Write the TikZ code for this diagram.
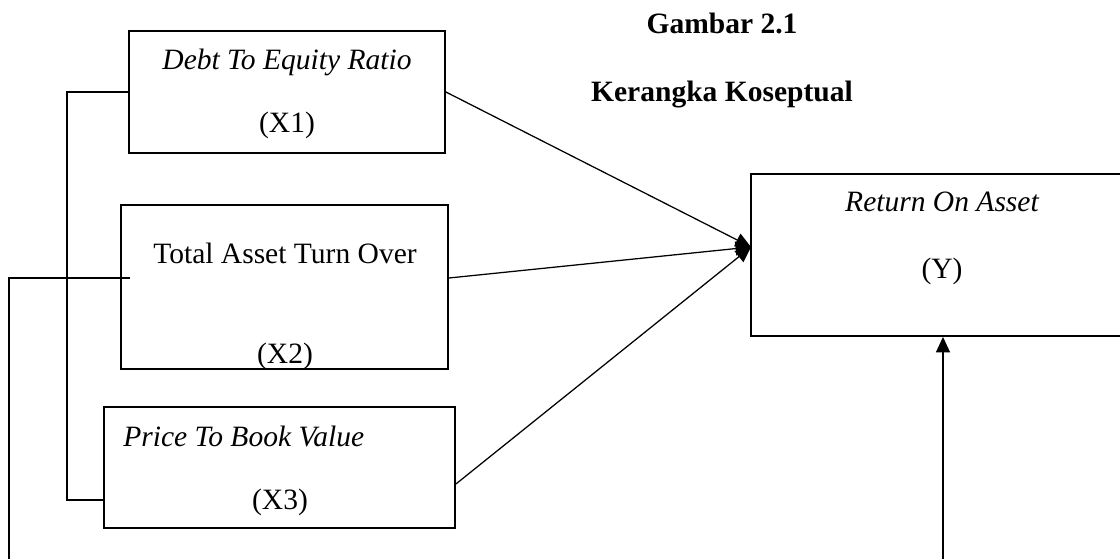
\documentclass[tikz,border=0pt]{standalone}
\usepackage{fontspec}
\setmainfont{Liberation Serif}
\usetikzlibrary{arrows.meta,fit}
\begin{document}
\begin{tikzpicture}[x=0.025cm,y=-0.025cm,line join=miter,>={Triangle[length=11pt,width=10pt]},
		kotak/.style={draw,line width=1.3pt,inner sep=0pt},
		garis/.style={line width=0.9pt},
		teks/.style={anchor=base,inner sep=0pt,font=\fontsize{21}{25}\selectfont},
		miring/.style={teks,font=\fontsize{21}{25}\selectfont\itshape},
		tebal/.style={teks,font=\fontsize{21}{25}\selectfont\bfseries}]
	\useasboundingbox (0,0) rectangle (1120,559);
	% judul
	\node[tebal] (gambar) at (722,33) {Gambar 2.1};
	\node[tebal] (kerangka) at (722,101) {Kerangka Koseptual};
	% kotak variabel
	\node[kotak,fit={(129,31)(445,153)}] (X1) {};
	\node[kotak,fit={(121,205)(448,369)}] (X2) {};
	\node[kotak,fit={(104,407)(455,528)}] (X3) {};
	\node[kotak,fit={(751,174)(1160,336)}] (Y) {};
	\node[miring] (nX1) at (287,69) {Debt To Equity Ratio};
	\node[teks] (kX1) at (287,132) {(X1)};
	\node[teks] (nX2) at (285,263) {Total Asset Turn Over};
	\node[teks] (kX2) at (285,363) {(X2)};
	\node[miring,anchor=base west] (nX3) at (123,446) {Price To Book Value};
	\node[teks] (kX3) at (280,509) {(X3)};
	\node[miring] (nY) at (942,211) {Return On Asset};
	\node[teks] (kY) at (942,278) {(Y)};
	% titik bantu
	\coordinate (tip) at (751,247);
	\coordinate (X2out) at (X2.east |- 0,278);
	\coordinate (X3out) at (X3.east |- 0,484);
	\coordinate (X3in) at (X3.west |- 0,500);
	\coordinate (X2in) at (130,278);
	\coordinate (bawahkiri) at (9,559);
	\coordinate (bawahkanan) at (943,559);
	% panah
	\draw[garis,->] (X1.east) -- (tip);
	\draw[garis,->] (X2out) -- (tip);
	\draw[garis,->] (X3out) -- (tip);
	\draw[garis] (X1.west) -- ++(-61,0) |- (X3in);
	\draw[garis] (X2in) -| (bawahkiri);
	\draw[garis,->] (bawahkanan) -- (bawahkanan |- Y.south);
\end{tikzpicture}
\end{document}
